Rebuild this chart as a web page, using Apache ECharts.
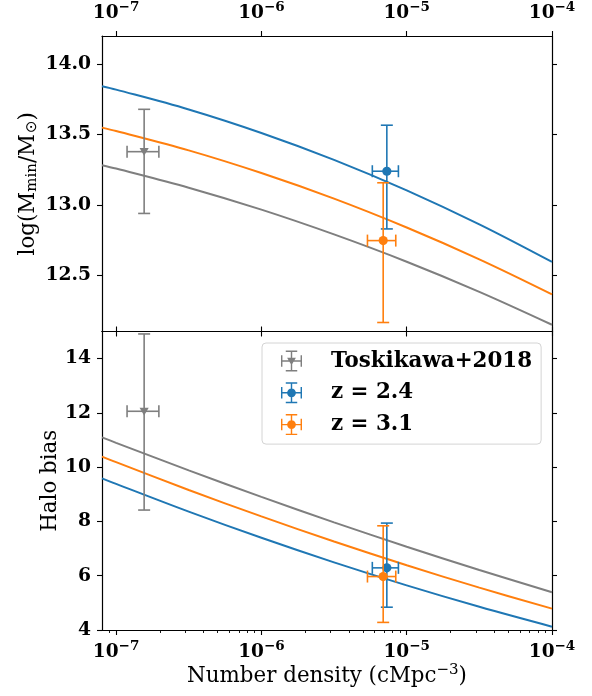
<!DOCTYPE html>
<html><head><meta charset="utf-8">
<script src="https://cdn.jsdelivr.net/npm/echarts@6/dist/echarts.min.js"></script>
<style>html,body{margin:0;padding:0;background:#fff}#c{width:592px;height:696px}</style>
</head><body><div id="c"></div>
<script>
// ---- data ----
const xSamples   = [8e-8, 1e-7, 3.162e-7, 1e-6, 3.162e-6, 1e-5, 3.162e-5, 1e-4];
const mminGray   = [13.282, 13.258, 13.122, 12.966, 12.790, 12.596, 12.382, 12.148];
const mminOrange = [13.549, 13.525, 13.387, 13.226, 13.044, 12.839, 12.613, 12.364];
const mminBlue   = [13.843, 13.819, 13.678, 13.511, 13.320, 13.103, 12.861, 12.594];
const biasGray   = [11.10, 10.898, 9.881, 8.904, 7.967, 7.069, 6.210, 5.391];
const biasOrange = [10.39, 10.185, 9.161, 8.187, 7.262, 6.387, 5.562, 4.787];
const biasBlue   = [9.59, 9.385, 8.362, 7.397, 6.491, 5.644, 4.854, 4.122];
// measurements: [n, value, nLow, nHigh, valueLow, valueHigh]
const toshiMmin = [1.56e-7, 13.378, 1.19e-7, 1.97e-7, 12.939, 13.679];
const toshiBias = [1.56e-7, 12.06, 1.19e-7, 1.97e-7, 8.42, 14.91];
const z24Mmin   = [7.3e-6, 13.239, 5.8e-6, 8.77e-6, 12.829, 13.566];
const z24Bias   = [7.3e-6, 6.29, 5.8e-6, 8.77e-6, 4.84, 7.94];
const z31Mmin   = [6.89e-6, 12.746, 5.37e-6, 8.41e-6, 12.164, 13.157];
const z31Bias   = [6.89e-6, 5.97, 5.37e-6, 8.41e-6, 4.28, 7.84];
const seriesNames = ['Toskikawa+2018', 'z = 2.4', 'z = 3.1'];
const xMajorTicks = [1e-7, 1e-6, 1e-5, 1e-4];
const xMinorTicks = [9e-8, 2e-7, 3e-7, 4e-7, 5e-7, 6e-7, 7e-7, 8e-7, 9e-7,
                     2e-6, 3e-6, 4e-6, 5e-6, 6e-6, 7e-6, 8e-6, 9e-6,
                     2e-5, 3e-5, 4e-5, 5e-5, 6e-5, 7e-5, 8e-5, 9e-5];
const mminTicks = [12.5, 13.0, 13.5, 14.0];
const biasTicks = [4, 6, 8, 10, 12, 14];

// ---- styling ----
const GRAY = '#7f7f7f', BLUE = '#1f77b4', ORANGE = '#ff7f0e';
const SERIF = 'DejaVu Serif';
const X_MIN = 8e-8, X_MAX = 1e-4;
const TICK_FS = 18.7, TITLE_FS = 21.4;

const chart = echarts.init(document.getElementById('c'), null, {renderer: 'canvas'});

const expRich = {
  b: {fontFamily: SERIF, fontWeight: 'bold', fontSize: 18.5, color: '#000'},
  s: {fontFamily: SERIF, fontWeight: 'bold', fontSize: 13.5, color: '#000', padding: [0, 0, 13, 0]}
};
function logLabel(v) {
  const e = Math.round(Math.log10(v));
  return '{b|10}{s|' + (e < 0 ? '\u2212' : '') + Math.abs(e) + '}';
}
const axisLine = {show: true, lineStyle: {color: '#000', width: 1.2}};
const majorTick = (vals) => ({show: true, inside: false, length: 5, customValues: vals, lineStyle: {color: '#000', width: 1.1}});

function xAxisDef(grid, pos, withLabels, extra) {
  return Object.assign({
    type: 'log', logBase: 10, gridIndex: grid, position: pos, min: X_MIN, max: X_MAX,
    axisLine: axisLine, axisTick: majorTick(xMajorTicks), splitLine: {show: false},
    axisLabel: withLabels ? {show: true, customValues: xMajorTicks, formatter: logLabel, rich: expRich, margin: 9} : {show: false}
  }, extra || {});
}
function yAxisDef(grid, pos, min, max, ticks, withLabels, fmt, extra) {
  return Object.assign({
    type: 'value', gridIndex: grid, position: pos, min: min, max: max,
    axisLine: axisLine, axisTick: majorTick(ticks), splitLine: {show: false},
    axisLabel: withLabels ? {show: true, customValues: ticks, formatter: fmt, margin: 11,
      fontFamily: SERIF, fontWeight: 'bold', fontSize: TICK_FS, color: '#000'} : {show: false}
  }, extra || {});
}

function errorbar(marker) {
  return function (params, api) {
    const c = api.coord([api.value(0), api.value(1)]);
    const xl = api.coord([api.value(2), api.value(1)]);
    const xh = api.coord([api.value(3), api.value(1)]);
    const yl = api.coord([api.value(0), api.value(4)]);
    const yh = api.coord([api.value(0), api.value(5)]);
    const color = api.visual('color');
    const cap = 6;
    const ls = {stroke: color, lineWidth: 1.6};
    const kids = [
      {type: 'line', shape: {x1: xl[0], y1: c[1], x2: xh[0], y2: c[1]}, style: ls},
      {type: 'line', shape: {x1: c[0], y1: yl[1], x2: c[0], y2: yh[1]}, style: ls},
      {type: 'line', shape: {x1: xl[0], y1: c[1] - cap, x2: xl[0], y2: c[1] + cap}, style: ls},
      {type: 'line', shape: {x1: xh[0], y1: c[1] - cap, x2: xh[0], y2: c[1] + cap}, style: ls},
      {type: 'line', shape: {x1: c[0] - cap, y1: yl[1], x2: c[0] + cap, y2: yl[1]}, style: ls},
      {type: 'line', shape: {x1: c[0] - cap, y1: yh[1], x2: c[0] + cap, y2: yh[1]}, style: ls}
    ];
    if (marker === 'tri') {
      kids.push({type: 'polygon', shape: {points: [[c[0] - 4.6, c[1] - 3.6], [c[0] + 4.6, c[1] - 3.6], [c[0], c[1] + 4.2]]}, style: {fill: color}});
    } else {
      kids.push({type: 'circle', shape: {cx: c[0], cy: c[1], r: 4.6}, style: {fill: color}});
    }
    return {type: 'group', children: kids};
  };
}
function ebSeries(name, item, color, marker, xi, yi) {
  return {
    type: 'custom', name: name, xAxisIndex: xi, yAxisIndex: yi, z: 5,
    itemStyle: {color: color}, renderItem: errorbar(marker),
    encode: {x: [0, 2, 3], y: [1, 4, 5]}, data: [item], clip: false
  };
}
function lineSeries(vals, color, xi, yi) {
  return {
    type: 'line', xAxisIndex: xi, yAxisIndex: yi, showSymbol: false, symbol: 'none', smooth: 0.35,
    lineStyle: {color: color, width: 2}, itemStyle: {color: color}, z: 2,
    data: xSamples.map((x, i) => [x, vals[i]])
  };
}

const crossPath = 'M0 10.25h22v1.5h-22Z M10.25 0h1.5v22h-1.5Z M0 5h1.5v12h-1.5Z M20.5 5h1.5v12h-1.5Z M5 0h12v1.5h-12Z M5 20.5h12v1.5h-12Z ';
const circIcon = 'path://' + crossPath + 'M15.6 11A4.6 4.6 0 1 1 6.4 11A4.6 4.6 0 1 1 15.6 11Z';
const triIcon = 'path://' + crossPath + 'M6.4 7.6L15.6 7.6L11 15.4Z';

const option = {
  animation: false,
  backgroundColor: '#fff',
  grid: [
    {left: 102, right: 40, top: 33, height: 298.5, containLabel: false},
    {left: 102, right: 40, top: 331.5, height: 298.5, containLabel: false}
  ],
  xAxis: [
    xAxisDef(0, 'top', true),
    xAxisDef(0, 'bottom', false),
    xAxisDef(1, 'bottom', true, {
      name: '{r|Number density (cMpc}{sup|\u22123}{r|)}', nameLocation: 'middle', nameGap: 33,
      nameTextStyle: {rich: {
        r: {fontFamily: SERIF, fontSize: TITLE_FS, color: '#000'},
        sup: {fontFamily: SERIF, fontSize: 15, color: '#000', padding: [0, 0, 12, 0]}
      }}
    }),
    xAxisDef(1, 'bottom', false, {
      axisLine: {show: false},
      axisTick: {show: true, inside: false, length: 3, customValues: xMinorTicks, lineStyle: {color: '#000', width: 0.9}}
    }),
    xAxisDef(1, 'top', false)
  ],
  yAxis: [
    yAxisDef(0, 'left', 12.1, 14.2, mminTicks, true, v => Number(v).toFixed(1), {
      name: '{r|log(M}{sub|min}{r|/M}{sym|\u2299}{r|)}', nameLocation: 'middle', nameRotate: 90, nameGap: 62,
      nameMoveOverlap: false,
      nameTextStyle: {rich: {
        r: {fontFamily: SERIF, fontSize: TITLE_FS, color: '#000'},
        sub: {fontFamily: SERIF, fontSize: 15, color: '#000', padding: [8, 0, 0, 0]},
        sym: {fontFamily: 'DejaVu Sans', fontSize: 15, color: '#000', padding: [8, 0, 0, 1]}
      }}
    }),
    yAxisDef(0, 'right', 12.1, 14.2, mminTicks, false),
    yAxisDef(1, 'left', 4, 15, biasTicks, true, v => String(v), {
      name: 'Halo bias', nameLocation: 'middle', nameRotate: 90, nameGap: 41,
      nameMoveOverlap: false,
      nameTextStyle: {fontFamily: SERIF, fontSize: TITLE_FS, color: '#000'}
    }),
    yAxisDef(1, 'right', 4, 15, biasTicks, false)
  ],
  legend: {
    orient: 'vertical', left: 262, top: 343,
    data: [{name: seriesNames[0], icon: triIcon}, {name: seriesNames[1], icon: circIcon}, {name: seriesNames[2], icon: circIcon}],
    itemWidth: 21, itemHeight: 21, itemGap: 10.8,
    padding: [7.5, 9, 9, 19],
    borderColor: '#d4d4d4', borderWidth: 1, borderRadius: 4, backgroundColor: 'rgba(255,255,255,0.8)',
    itemStyle: {borderWidth: 0},
    textStyle: {fontFamily: SERIF, fontWeight: 'bold', fontSize: TITLE_FS, color: '#000', padding: [0, 0, 0, 24]},
    selectedMode: false
  },
  series: [
    lineSeries(mminGray, GRAY, 0, 0),
    lineSeries(mminOrange, ORANGE, 0, 0),
    lineSeries(mminBlue, BLUE, 0, 0),
    lineSeries(biasGray, GRAY, 2, 2),
    lineSeries(biasOrange, ORANGE, 2, 2),
    lineSeries(biasBlue, BLUE, 2, 2),
    ebSeries(seriesNames[0], toshiMmin, GRAY, 'tri', 0, 0),
    ebSeries(seriesNames[1], z24Mmin, BLUE, 'circ', 0, 0),
    ebSeries(seriesNames[2], z31Mmin, ORANGE, 'circ', 0, 0),
    ebSeries(seriesNames[0], toshiBias, GRAY, 'tri', 2, 2),
    ebSeries(seriesNames[1], z24Bias, BLUE, 'circ', 2, 2),
    ebSeries(seriesNames[2], z31Bias, ORANGE, 'circ', 2, 2)
  ]
};
chart.setOption(option);
</script></body></html>
